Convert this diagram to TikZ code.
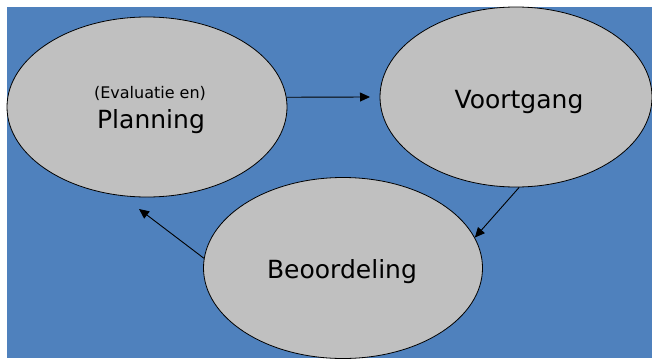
\documentclass[tikz,border=0pt]{standalone}
\usepackage{fontspec}
\setmainfont{DejaVu Sans}
\usetikzlibrary{shapes.geometric,arrows.meta}
\definecolor{bgblue}{HTML}{4F81BD}
\definecolor{ellgray}{HTML}{C0C0C0}
\tikzset{
  phase/.style={ellipse,draw=black,line width=0.8pt,fill=ellgray,inner sep=0pt,align=center,text=black!90},
  flow/.style={draw=black,line width=0.9pt,-{Triangle[length=10pt,width=9pt]}},
  bigtxt/.style={font=\fontsize{25}{28}\selectfont},
}
\begin{document}
\begin{tikzpicture}[x=1pt,y=1pt]
\useasboundingbox (0,0) rectangle (652,360);
\fill[bgblue] (7,2) rectangle (652,353);
\node[phase,minimum width=280pt,minimum height=180pt] (p) at (147,253) {};
\node[phase,minimum width=272pt,minimum height=180pt] (v) at (516,263) {};
\node[phase,minimum width=279pt,minimum height=181pt] (b) at (343,92) {};
\node[anchor=base,font=\fontsize{16}{18}\selectfont] (pt1) at (150,262) {(Evaluatie en)};
\node[anchor=base,font=\fontsize{25}{28}\selectfont] (pt2) at (151,232) {Planning};
\node[anchor=base,bigtxt] (vt) at (519,252) {Voortgang};
\node[anchor=base,bigtxt] (bt) at (342,82) {Beoordeling};
\coordinate (a1end) at (370,263);
\coordinate (a3end) at (139,151);
\draw[flow] (p.4) -- (a1end);
\draw[flow] (v.-88) -- (b.13);
\draw[flow] (b.176) -- (a3end);
\end{tikzpicture}
\end{document}
